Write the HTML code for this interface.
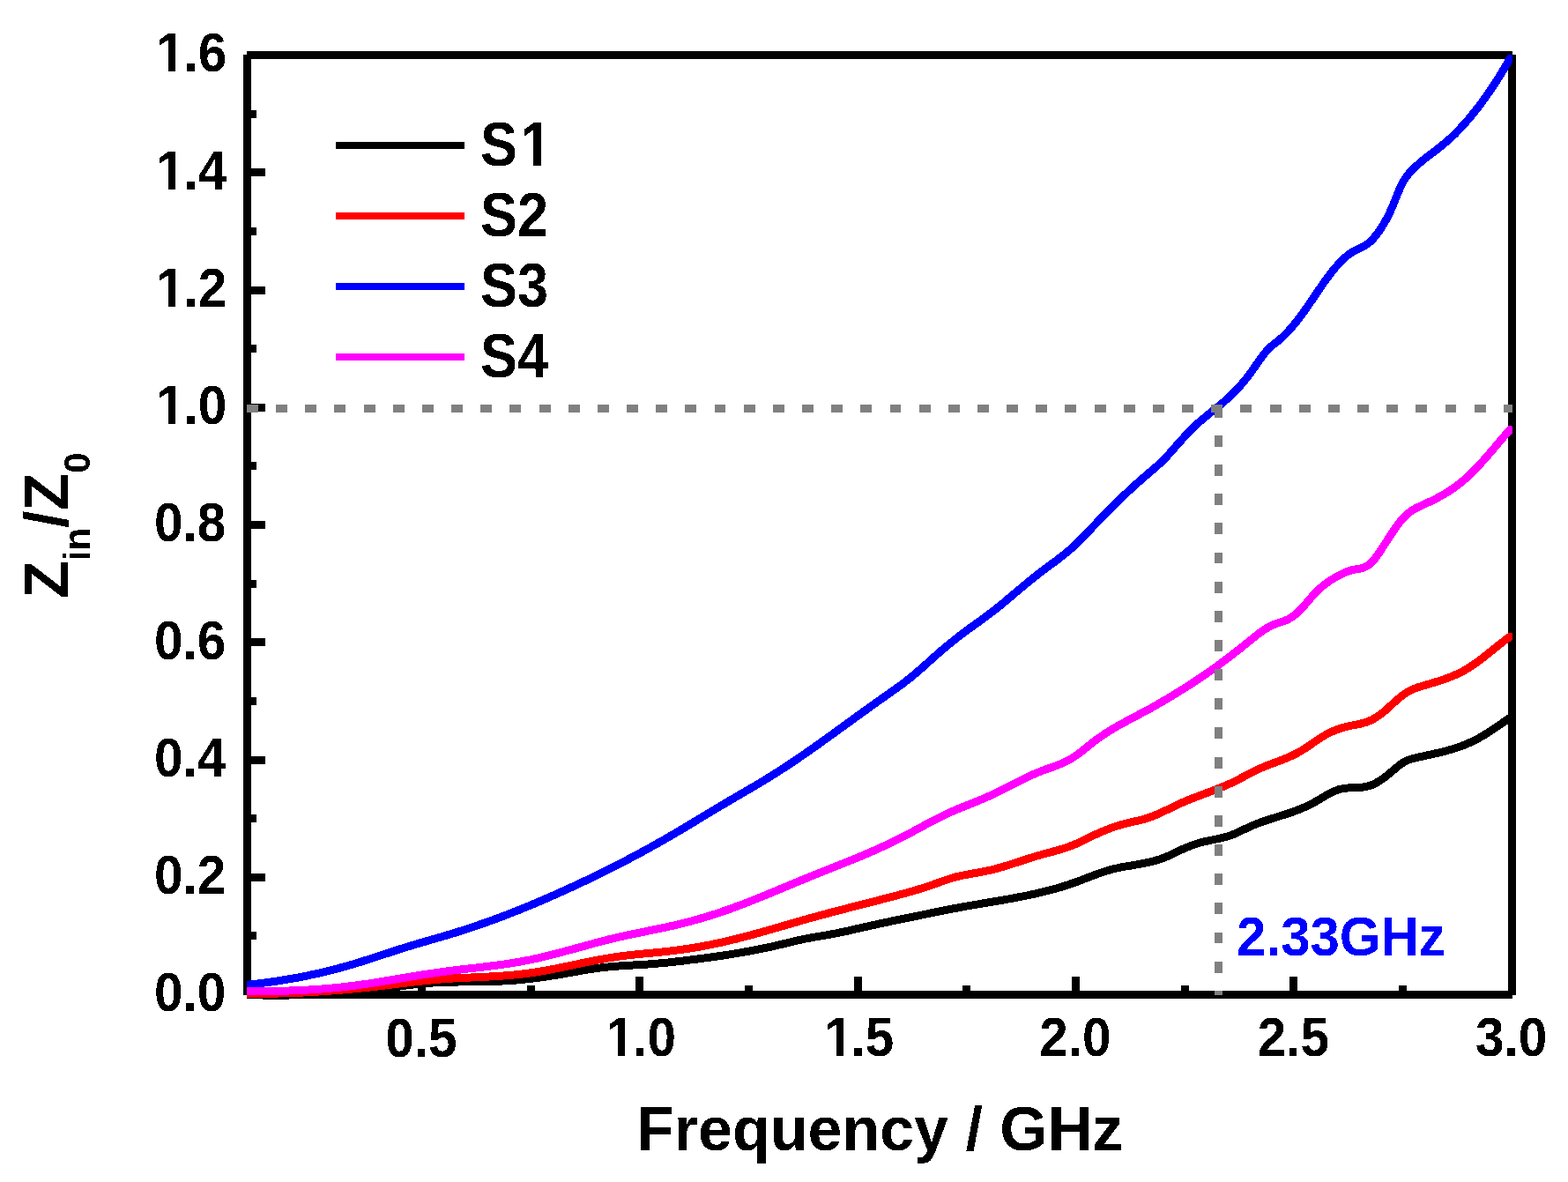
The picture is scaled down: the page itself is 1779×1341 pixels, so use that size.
<!DOCTYPE html>
<html><head><meta charset="utf-8"><title>Zin/Z0 vs Frequency</title>
<style>
html,body{margin:0;padding:0;background:#fff;}
body{width:1779px;height:1341px;overflow:hidden;}
svg{display:block;}
text{font-family:'Liberation Sans', Arial, Helvetica, sans-serif;font-weight:bold;}
</style></head><body>
<svg width="1779" height="1341" viewBox="0 0 1779 1341" shape-rendering="crispEdges">
<rect x="0" y="0" width="1779" height="1341" fill="#fff"/>
<defs><filter id="crisp" x="-10%" y="-10%" width="120%" height="120%" color-interpolation-filters="sRGB"><feComponentTransfer><feFuncA type="discrete" tableValues="0 1"/></feComponentTransfer></filter><clipPath id="plot"><rect x="280" y="40" width="1436" height="1100"/></clipPath></defs>

<g fill="#000">
<rect x="276" y="62" width="9" height="1067"/>
<rect x="1711" y="62" width="9" height="1067"/>
<rect x="280" y="58" width="1436" height="9"/>
<rect x="280" y="1124" width="1436" height="9"/>
<rect x="285" y="1057.3" width="6" height="9"/>
<rect x="285" y="990.7" width="16" height="9"/>
<rect x="285" y="924.1" width="6" height="9"/>
<rect x="285" y="857.5" width="16" height="9"/>
<rect x="285" y="790.8" width="6" height="9"/>
<rect x="285" y="724.2" width="16" height="9"/>
<rect x="285" y="657.6" width="6" height="9"/>
<rect x="285" y="591.0" width="16" height="9"/>
<rect x="285" y="524.4" width="6" height="9"/>
<rect x="285" y="457.7" width="16" height="9"/>
<rect x="285" y="391.1" width="6" height="9"/>
<rect x="285" y="324.5" width="16" height="9"/>
<rect x="285" y="257.9" width="6" height="9"/>
<rect x="285" y="191.2" width="16" height="9"/>
<rect x="285" y="124.6" width="6" height="9"/>
<rect x="350.2" y="1117.6" width="9" height="6.5"/>
<rect x="473.9" y="1108.1" width="9" height="16"/>
<rect x="597.6" y="1117.6" width="9" height="6.5"/>
<rect x="721.2" y="1108.1" width="9" height="16"/>
<rect x="844.9" y="1117.6" width="9" height="6.5"/>
<rect x="968.6" y="1108.1" width="9" height="16"/>
<rect x="1092.3" y="1117.6" width="9" height="6.5"/>
<rect x="1215.9" y="1108.1" width="9" height="16"/>
<rect x="1339.6" y="1117.6" width="9" height="6.5"/>
<rect x="1463.3" y="1108.1" width="9" height="16"/>
<rect x="1587.0" y="1117.6" width="9" height="6.5"/>
</g>
<g font-size="60" text-anchor="end" fill="#000" filter="url(#crisp)">
<text transform="translate(256.3,1147.4) scale(0.975,1.05)">0.0</text>
<text transform="translate(256.3,1014.1) scale(0.975,1.05)">0.2</text>
<text transform="translate(256.3,880.9) scale(0.975,1.05)">0.4</text>
<text transform="translate(256.3,747.6) scale(0.975,1.05)">0.6</text>
<text transform="translate(256.3,614.4) scale(0.975,1.05)">0.8</text>
<text transform="translate(256.3,481.1) scale(0.975,1.05)"><tspan dx="1">1</tspan><tspan dx="-1">.0</tspan></text>
<text transform="translate(256.3,347.9) scale(0.975,1.05)"><tspan dx="1">1</tspan><tspan dx="-1">.2</tspan></text>
<text transform="translate(256.3,214.6) scale(0.975,1.05)"><tspan dx="1">1</tspan><tspan dx="-1">.4</tspan></text>
<text transform="translate(256.3,81.4) scale(0.975,1.05)"><tspan dx="1">1</tspan><tspan dx="-1">.6</tspan></text>
</g>
<g font-size="60" text-anchor="middle" fill="#000" filter="url(#crisp)">
<text transform="translate(478.0,1198.5) scale(0.975,1.05)">0.5</text>
<text transform="translate(725.3,1198.5) scale(0.975,1.05)"><tspan dx="2">1</tspan><tspan dx="-2">.0</tspan></text>
<text transform="translate(972.7,1198.5) scale(0.975,1.05)"><tspan dx="2">1</tspan><tspan dx="-2">.5</tspan></text>
<text transform="translate(1220.0,1198.5) scale(0.975,1.05)">2.0</text>
<text transform="translate(1467.4,1198.5) scale(0.975,1.05)">2.5</text>
<text transform="translate(1714.7,1198.5) scale(0.975,1.05)">3.0</text>
</g>
<text x="722" y="1305" font-size="70" fill="#000" filter="url(#crisp)">Frequency / GHz</text>
<text transform="translate(77,679) rotate(-90)" font-size="70" fill="#000" filter="url(#crisp)">Z<tspan font-size="42" dy="24.8">in</tspan><tspan dy="-24.8">/Z</tspan><tspan font-size="42" dy="24.8">0</tspan></text>
<g clip-path="url(#plot)" shape-rendering="crispEdges" fill="none" stroke-width="9" stroke-linejoin="round" stroke-linecap="round">
<path d="M280.0,1128.5 C281.0,1128.6 284.0,1128.7 286.0,1128.7 C288.0,1128.8 290.0,1128.8 292.0,1128.9 C294.0,1128.9 296.0,1129.0 298.0,1129.0 C300.0,1129.0 302.0,1129.1 304.0,1129.1 C306.0,1129.1 308.0,1129.1 310.0,1129.1 C312.0,1129.1 314.0,1129.1 316.0,1129.1 C318.0,1129.1 320.0,1129.1 322.0,1129.1 C324.0,1129.1 326.0,1129.1 328.0,1129.0 C330.0,1129.0 332.0,1129.0 334.0,1128.9 C336.0,1128.9 338.0,1128.8 340.0,1128.8 C342.0,1128.7 344.0,1128.7 346.0,1128.6 C348.0,1128.5 350.0,1128.5 352.0,1128.4 C354.0,1128.3 356.0,1128.2 358.0,1128.1 C360.0,1128.0 362.0,1127.9 364.0,1127.8 C366.0,1127.7 368.0,1127.6 370.0,1127.5 C372.0,1127.4 374.0,1127.2 376.0,1127.1 C378.0,1127.0 380.0,1126.8 382.0,1126.7 C384.0,1126.5 386.0,1126.4 388.0,1126.2 C390.0,1126.1 392.0,1125.9 394.0,1125.8 C396.0,1125.6 398.0,1125.4 400.0,1125.2 C402.0,1125.1 404.0,1124.9 406.0,1124.7 C408.0,1124.5 410.0,1124.3 412.0,1124.1 C414.0,1123.9 416.0,1123.7 418.0,1123.4 C420.0,1123.2 422.0,1123.0 424.0,1122.8 C426.0,1122.5 428.0,1122.3 430.0,1122.1 C432.0,1121.8 434.0,1121.6 436.0,1121.3 C438.0,1121.1 440.0,1120.8 442.0,1120.5 C444.0,1120.3 446.0,1120.0 448.0,1119.7 C450.0,1119.5 452.0,1119.2 454.0,1118.9 C456.0,1118.7 458.0,1118.4 460.0,1118.1 C462.0,1117.9 464.0,1117.6 466.0,1117.4 C468.0,1117.1 470.0,1116.9 472.0,1116.7 C474.0,1116.4 476.0,1116.2 478.0,1116.0 C480.0,1115.8 482.0,1115.7 484.0,1115.5 C486.0,1115.3 488.0,1115.2 490.0,1115.1 C492.0,1114.9 494.0,1114.8 496.0,1114.7 C498.0,1114.6 500.0,1114.5 502.0,1114.4 C504.0,1114.4 506.0,1114.3 508.0,1114.2 C510.0,1114.2 512.0,1114.1 514.0,1114.1 C516.0,1114.0 518.0,1114.0 520.0,1114.0 C522.0,1113.9 524.0,1113.9 526.0,1113.9 C528.0,1113.9 530.0,1113.8 532.0,1113.8 C534.0,1113.8 536.0,1113.8 538.0,1113.8 C540.0,1113.7 542.0,1113.7 544.0,1113.7 C546.0,1113.7 548.0,1113.6 550.0,1113.6 C552.0,1113.6 554.0,1113.5 556.0,1113.5 C558.0,1113.4 560.0,1113.4 562.0,1113.3 C564.0,1113.2 566.0,1113.2 568.0,1113.1 C570.0,1113.0 572.0,1112.9 574.0,1112.8 C576.0,1112.7 578.0,1112.6 580.0,1112.4 C582.0,1112.3 584.0,1112.1 586.0,1112.0 C588.0,1111.8 590.0,1111.6 592.0,1111.4 C594.0,1111.2 596.0,1111.0 598.0,1110.8 C600.0,1110.6 602.0,1110.4 604.0,1110.1 C606.0,1109.9 608.0,1109.6 610.0,1109.4 C612.0,1109.1 614.0,1108.8 616.0,1108.5 C618.0,1108.3 620.0,1108.0 622.0,1107.7 C624.0,1107.4 626.0,1107.0 628.0,1106.7 C630.0,1106.4 632.0,1106.1 634.0,1105.7 C636.0,1105.4 638.0,1105.1 640.0,1104.7 C642.0,1104.4 644.0,1104.0 646.0,1103.7 C648.0,1103.3 650.0,1102.9 652.0,1102.6 C654.0,1102.2 656.0,1101.9 658.0,1101.5 C660.0,1101.2 662.0,1100.8 664.0,1100.5 C666.0,1100.2 668.0,1099.9 670.0,1099.5 C672.0,1099.2 674.0,1098.9 676.0,1098.7 C678.0,1098.4 680.0,1098.1 682.0,1097.9 C684.0,1097.7 686.0,1097.4 688.0,1097.2 C690.0,1097.0 692.0,1096.9 694.0,1096.7 C696.0,1096.5 698.0,1096.3 700.0,1096.2 C702.0,1096.0 704.0,1095.9 706.0,1095.8 C708.0,1095.6 710.0,1095.5 712.0,1095.4 C714.0,1095.3 716.0,1095.2 718.0,1095.0 C720.0,1094.9 722.0,1094.8 724.0,1094.7 C726.0,1094.6 728.0,1094.5 730.0,1094.3 C732.0,1094.2 734.0,1094.1 736.0,1093.9 C738.0,1093.8 740.0,1093.6 742.0,1093.5 C744.0,1093.3 746.0,1093.1 748.0,1092.9 C750.0,1092.8 752.0,1092.6 754.0,1092.4 C756.0,1092.2 758.0,1092.0 760.0,1091.8 C762.0,1091.5 764.0,1091.3 766.0,1091.1 C768.0,1090.9 770.0,1090.6 772.0,1090.4 C774.0,1090.2 776.0,1089.9 778.0,1089.7 C780.0,1089.4 782.0,1089.2 784.0,1088.9 C786.0,1088.7 788.0,1088.4 790.0,1088.2 C792.0,1087.9 794.0,1087.7 796.0,1087.4 C798.0,1087.2 800.0,1086.9 802.0,1086.6 C804.0,1086.4 806.0,1086.1 808.0,1085.8 C810.0,1085.5 812.0,1085.2 814.0,1084.9 C816.0,1084.7 818.0,1084.4 820.0,1084.1 C822.0,1083.8 824.0,1083.5 826.0,1083.2 C828.0,1082.8 830.0,1082.5 832.0,1082.2 C834.0,1081.9 836.0,1081.5 838.0,1081.2 C840.0,1080.9 842.0,1080.5 844.0,1080.2 C846.0,1079.8 848.0,1079.5 850.0,1079.1 C852.0,1078.7 854.0,1078.3 856.0,1078.0 C858.0,1077.6 860.0,1077.2 862.0,1076.8 C864.0,1076.4 866.0,1076.0 868.0,1075.5 C870.0,1075.1 872.0,1074.7 874.0,1074.3 C876.0,1073.8 878.0,1073.4 880.0,1072.9 C882.0,1072.4 884.0,1072.0 886.0,1071.5 C888.0,1071.0 890.0,1070.5 892.0,1070.1 C894.0,1069.6 896.0,1069.1 898.0,1068.6 C900.0,1068.1 902.0,1067.7 904.0,1067.2 C906.0,1066.8 908.0,1066.3 910.0,1065.9 C912.0,1065.4 914.0,1065.0 916.0,1064.6 C918.0,1064.2 920.0,1063.9 922.0,1063.5 C924.0,1063.2 926.0,1062.8 928.0,1062.5 C930.0,1062.2 932.0,1061.9 934.0,1061.5 C936.0,1061.2 938.0,1060.9 940.0,1060.5 C942.0,1060.2 944.0,1059.8 946.0,1059.4 C948.0,1059.0 950.0,1058.6 952.0,1058.2 C954.0,1057.8 956.0,1057.4 958.0,1056.9 C960.0,1056.5 962.0,1056.0 964.0,1055.6 C966.0,1055.1 968.0,1054.7 970.0,1054.2 C972.0,1053.8 974.0,1053.3 976.0,1052.8 C978.0,1052.4 980.0,1051.9 982.0,1051.5 C984.0,1051.0 986.0,1050.6 988.0,1050.2 C990.0,1049.7 992.0,1049.3 994.0,1048.8 C996.0,1048.4 998.0,1048.0 1000.0,1047.6 C1002.0,1047.1 1004.0,1046.7 1006.0,1046.3 C1008.0,1045.9 1010.0,1045.5 1012.0,1045.0 C1014.0,1044.6 1016.0,1044.2 1018.0,1043.8 C1020.0,1043.4 1022.0,1043.0 1024.0,1042.6 C1026.0,1042.2 1028.0,1041.8 1030.0,1041.3 C1032.0,1040.9 1034.0,1040.5 1036.0,1040.1 C1038.0,1039.7 1040.0,1039.3 1042.0,1038.9 C1044.0,1038.4 1046.0,1038.0 1048.0,1037.6 C1050.0,1037.2 1052.0,1036.8 1054.0,1036.4 C1056.0,1035.9 1058.0,1035.5 1060.0,1035.1 C1062.0,1034.7 1064.0,1034.3 1066.0,1033.9 C1068.0,1033.5 1070.0,1033.1 1072.0,1032.7 C1074.0,1032.3 1076.0,1031.9 1078.0,1031.5 C1080.0,1031.1 1082.0,1030.8 1084.0,1030.4 C1086.0,1030.0 1088.0,1029.7 1090.0,1029.3 C1092.0,1028.9 1094.0,1028.6 1096.0,1028.2 C1098.0,1027.9 1100.0,1027.5 1102.0,1027.2 C1104.0,1026.9 1106.0,1026.5 1108.0,1026.2 C1110.0,1025.8 1112.0,1025.5 1114.0,1025.2 C1116.0,1024.8 1118.0,1024.5 1120.0,1024.1 C1122.0,1023.8 1124.0,1023.5 1126.0,1023.1 C1128.0,1022.8 1130.0,1022.5 1132.0,1022.1 C1134.0,1021.8 1136.0,1021.4 1138.0,1021.1 C1140.0,1020.7 1142.0,1020.4 1144.0,1020.0 C1146.0,1019.6 1148.0,1019.3 1150.0,1018.9 C1152.0,1018.5 1154.0,1018.1 1156.0,1017.8 C1158.0,1017.4 1160.0,1017.0 1162.0,1016.6 C1164.0,1016.2 1166.0,1015.8 1168.0,1015.4 C1170.0,1014.9 1172.0,1014.5 1174.0,1014.1 C1176.0,1013.6 1178.0,1013.2 1180.0,1012.7 C1182.0,1012.2 1184.0,1011.7 1186.0,1011.2 C1188.0,1010.7 1190.0,1010.2 1192.0,1009.7 C1194.0,1009.2 1196.0,1008.6 1198.0,1008.1 C1200.0,1007.5 1202.0,1006.9 1204.0,1006.3 C1206.0,1005.7 1208.0,1005.1 1210.0,1004.4 C1212.0,1003.8 1214.0,1003.1 1216.0,1002.4 C1218.0,1001.8 1220.0,1001.0 1222.0,1000.3 C1224.0,999.6 1226.0,998.8 1228.0,998.0 C1230.0,997.3 1232.0,996.5 1234.0,995.7 C1236.0,994.9 1238.0,994.2 1240.0,993.4 C1242.0,992.7 1244.0,991.9 1246.0,991.2 C1248.0,990.5 1250.0,989.8 1252.0,989.1 C1254.0,988.5 1256.0,987.8 1258.0,987.3 C1260.0,986.7 1262.0,986.2 1264.0,985.7 C1266.0,985.2 1268.0,984.8 1270.0,984.4 C1272.0,984.0 1274.0,983.6 1276.0,983.2 C1278.0,982.9 1280.0,982.5 1282.0,982.2 C1284.0,981.9 1286.0,981.6 1288.0,981.2 C1290.0,980.9 1292.0,980.5 1294.0,980.2 C1296.0,979.8 1298.0,979.4 1300.0,979.0 C1302.0,978.6 1304.0,978.2 1306.0,977.7 C1308.0,977.2 1310.0,976.6 1312.0,976.0 C1314.0,975.4 1316.0,974.8 1318.0,974.1 C1320.0,973.3 1322.0,972.5 1324.0,971.7 C1326.0,970.8 1328.0,969.9 1330.0,969.0 C1332.0,968.0 1334.0,967.1 1336.0,966.1 C1338.0,965.2 1340.0,964.2 1342.0,963.3 C1344.0,962.5 1346.0,961.6 1348.0,960.8 C1350.0,960.0 1352.0,959.2 1354.0,958.5 C1356.0,957.8 1358.0,957.1 1360.0,956.5 C1362.0,955.9 1364.0,955.4 1366.0,955.0 C1368.0,954.5 1370.0,954.1 1372.0,953.6 C1374.0,953.2 1376.0,952.8 1378.0,952.4 C1380.0,952.0 1382.0,951.6 1384.0,951.2 C1386.0,950.7 1388.0,950.3 1390.0,949.7 C1392.0,949.2 1394.0,948.6 1396.0,947.9 C1398.0,947.2 1400.0,946.4 1402.0,945.5 C1404.0,944.7 1406.0,943.7 1408.0,942.7 C1410.0,941.7 1412.0,940.7 1414.0,939.8 C1416.0,938.8 1418.0,937.9 1420.0,937.1 C1422.0,936.2 1424.0,935.4 1426.0,934.6 C1428.0,933.8 1430.0,933.1 1432.0,932.4 C1434.0,931.7 1436.0,931.0 1438.0,930.3 C1440.0,929.7 1442.0,929.0 1444.0,928.4 C1446.0,927.8 1448.0,927.2 1450.0,926.5 C1452.0,925.9 1454.0,925.3 1456.0,924.6 C1458.0,924.0 1460.0,923.4 1462.0,922.7 C1464.0,922.0 1466.0,921.3 1468.0,920.6 C1470.0,919.9 1472.0,919.1 1474.0,918.3 C1476.0,917.5 1478.0,916.7 1480.0,915.8 C1482.0,914.9 1484.0,914.0 1486.0,913.0 C1488.0,912.0 1490.0,910.9 1492.0,909.8 C1494.0,908.6 1496.0,907.4 1498.0,906.3 C1500.0,905.1 1502.0,903.9 1504.0,902.7 C1506.0,901.6 1508.0,900.5 1510.0,899.5 C1512.0,898.5 1514.0,897.5 1516.0,896.8 C1518.0,896.0 1520.0,895.4 1522.0,895.0 C1524.0,894.5 1526.0,894.3 1528.0,894.1 C1530.0,893.9 1532.0,893.8 1534.0,893.7 C1536.0,893.6 1538.0,893.6 1540.0,893.5 C1542.0,893.4 1544.0,893.3 1546.0,893.1 C1548.0,892.8 1550.0,892.5 1552.0,892.0 C1554.0,891.5 1556.0,890.8 1558.0,889.9 C1560.0,889.0 1562.0,887.9 1564.0,886.7 C1566.0,885.5 1568.0,884.1 1570.0,882.7 C1572.0,881.2 1574.0,879.5 1576.0,877.9 C1578.0,876.3 1580.0,874.5 1582.0,872.8 C1584.0,871.1 1586.0,869.4 1588.0,867.9 C1590.0,866.5 1592.0,865.1 1594.0,864.0 C1596.0,862.9 1598.0,862.2 1600.0,861.5 C1602.0,860.8 1604.0,860.4 1606.0,859.9 C1608.0,859.4 1610.0,858.9 1612.0,858.5 C1614.0,858.0 1616.0,857.6 1618.0,857.2 C1620.0,856.7 1622.0,856.3 1624.0,855.9 C1626.0,855.4 1628.0,855.0 1630.0,854.5 C1632.0,854.1 1634.0,853.6 1636.0,853.1 C1638.0,852.6 1640.0,852.1 1642.0,851.5 C1644.0,851.0 1646.0,850.4 1648.0,849.8 C1650.0,849.2 1652.0,848.6 1654.0,847.9 C1656.0,847.2 1658.0,846.5 1660.0,845.7 C1662.0,844.9 1664.0,844.1 1666.0,843.2 C1668.0,842.3 1670.0,841.4 1672.0,840.4 C1674.0,839.4 1676.0,838.4 1678.0,837.3 C1680.0,836.2 1682.0,835.0 1684.0,833.8 C1686.0,832.6 1688.0,831.3 1690.0,830.0 C1692.0,828.7 1694.0,827.4 1696.0,826.1 C1698.0,824.7 1700.0,823.4 1702.0,822.0 C1704.0,820.6 1706.2,819.1 1708.0,817.9 C1709.8,816.6 1712.2,815.1 1713.0,814.5" stroke="#000"/>
<path d="M280.0,1127.3 C281.0,1127.3 284.0,1127.3 286.0,1127.3 C288.0,1127.4 290.0,1127.4 292.0,1127.4 C294.0,1127.3 296.0,1127.3 298.0,1127.3 C300.0,1127.3 302.0,1127.3 304.0,1127.3 C306.0,1127.2 308.0,1127.2 310.0,1127.2 C312.0,1127.1 314.0,1127.1 316.0,1127.0 C318.0,1127.0 320.0,1126.9 322.0,1126.9 C324.0,1126.8 326.0,1126.7 328.0,1126.7 C330.0,1126.6 332.0,1126.5 334.0,1126.5 C336.0,1126.4 338.0,1126.3 340.0,1126.2 C342.0,1126.1 344.0,1126.0 346.0,1125.9 C348.0,1125.8 350.0,1125.7 352.0,1125.6 C354.0,1125.5 356.0,1125.4 358.0,1125.3 C360.0,1125.1 362.0,1125.0 364.0,1124.9 C366.0,1124.7 368.0,1124.6 370.0,1124.5 C372.0,1124.3 374.0,1124.2 376.0,1124.0 C378.0,1123.9 380.0,1123.7 382.0,1123.6 C384.0,1123.4 386.0,1123.2 388.0,1123.1 C390.0,1122.9 392.0,1122.7 394.0,1122.6 C396.0,1122.4 398.0,1122.2 400.0,1122.0 C402.0,1121.8 404.0,1121.6 406.0,1121.4 C408.0,1121.2 410.0,1121.0 412.0,1120.8 C414.0,1120.6 416.0,1120.4 418.0,1120.2 C420.0,1120.0 422.0,1119.7 424.0,1119.5 C426.0,1119.3 428.0,1119.1 430.0,1118.8 C432.0,1118.6 434.0,1118.4 436.0,1118.1 C438.0,1117.9 440.0,1117.6 442.0,1117.4 C444.0,1117.1 446.0,1116.9 448.0,1116.7 C450.0,1116.4 452.0,1116.2 454.0,1115.9 C456.0,1115.7 458.0,1115.4 460.0,1115.2 C462.0,1114.9 464.0,1114.7 466.0,1114.5 C468.0,1114.2 470.0,1114.0 472.0,1113.8 C474.0,1113.5 476.0,1113.3 478.0,1113.1 C480.0,1112.9 482.0,1112.7 484.0,1112.5 C486.0,1112.3 488.0,1112.1 490.0,1111.9 C492.0,1111.7 494.0,1111.5 496.0,1111.3 C498.0,1111.2 500.0,1111.0 502.0,1110.9 C504.0,1110.7 506.0,1110.6 508.0,1110.4 C510.0,1110.3 512.0,1110.2 514.0,1110.0 C516.0,1109.9 518.0,1109.8 520.0,1109.7 C522.0,1109.6 524.0,1109.5 526.0,1109.4 C528.0,1109.3 530.0,1109.2 532.0,1109.1 C534.0,1109.0 536.0,1108.9 538.0,1108.8 C540.0,1108.7 542.0,1108.6 544.0,1108.6 C546.0,1108.5 548.0,1108.4 550.0,1108.3 C552.0,1108.2 554.0,1108.1 556.0,1107.9 C558.0,1107.8 560.0,1107.7 562.0,1107.6 C564.0,1107.5 566.0,1107.4 568.0,1107.2 C570.0,1107.1 572.0,1106.9 574.0,1106.8 C576.0,1106.6 578.0,1106.5 580.0,1106.3 C582.0,1106.1 584.0,1105.9 586.0,1105.7 C588.0,1105.5 590.0,1105.3 592.0,1105.1 C594.0,1104.9 596.0,1104.6 598.0,1104.4 C600.0,1104.1 602.0,1103.8 604.0,1103.5 C606.0,1103.2 608.0,1102.9 610.0,1102.6 C612.0,1102.3 614.0,1101.9 616.0,1101.6 C618.0,1101.2 620.0,1100.9 622.0,1100.5 C624.0,1100.1 626.0,1099.7 628.0,1099.4 C630.0,1099.0 632.0,1098.6 634.0,1098.2 C636.0,1097.8 638.0,1097.4 640.0,1096.9 C642.0,1096.5 644.0,1096.1 646.0,1095.7 C648.0,1095.3 650.0,1094.9 652.0,1094.4 C654.0,1094.0 656.0,1093.6 658.0,1093.2 C660.0,1092.8 662.0,1092.4 664.0,1091.9 C666.0,1091.5 668.0,1091.1 670.0,1090.7 C672.0,1090.3 674.0,1089.9 676.0,1089.5 C678.0,1089.2 680.0,1088.8 682.0,1088.4 C684.0,1088.0 686.0,1087.7 688.0,1087.3 C690.0,1087.0 692.0,1086.7 694.0,1086.4 C696.0,1086.0 698.0,1085.7 700.0,1085.4 C702.0,1085.2 704.0,1084.9 706.0,1084.6 C708.0,1084.4 710.0,1084.1 712.0,1083.9 C714.0,1083.7 716.0,1083.4 718.0,1083.2 C720.0,1083.0 722.0,1082.8 724.0,1082.6 C726.0,1082.4 728.0,1082.2 730.0,1082.0 C732.0,1081.8 734.0,1081.6 736.0,1081.5 C738.0,1081.3 740.0,1081.1 742.0,1080.9 C744.0,1080.7 746.0,1080.5 748.0,1080.3 C750.0,1080.1 752.0,1079.9 754.0,1079.7 C756.0,1079.5 758.0,1079.3 760.0,1079.0 C762.0,1078.8 764.0,1078.6 766.0,1078.3 C768.0,1078.0 770.0,1077.8 772.0,1077.5 C774.0,1077.2 776.0,1077.0 778.0,1076.7 C780.0,1076.4 782.0,1076.1 784.0,1075.7 C786.0,1075.4 788.0,1075.1 790.0,1074.7 C792.0,1074.4 794.0,1074.1 796.0,1073.7 C798.0,1073.3 800.0,1073.0 802.0,1072.6 C804.0,1072.2 806.0,1071.8 808.0,1071.4 C810.0,1071.0 812.0,1070.6 814.0,1070.1 C816.0,1069.7 818.0,1069.3 820.0,1068.8 C822.0,1068.4 824.0,1067.9 826.0,1067.4 C828.0,1067.0 830.0,1066.5 832.0,1066.0 C834.0,1065.5 836.0,1065.0 838.0,1064.5 C840.0,1064.0 842.0,1063.5 844.0,1062.9 C846.0,1062.4 848.0,1061.9 850.0,1061.4 C852.0,1060.8 854.0,1060.3 856.0,1059.7 C858.0,1059.2 860.0,1058.6 862.0,1058.1 C864.0,1057.5 866.0,1056.9 868.0,1056.4 C870.0,1055.8 872.0,1055.2 874.0,1054.6 C876.0,1054.1 878.0,1053.5 880.0,1052.9 C882.0,1052.3 884.0,1051.8 886.0,1051.2 C888.0,1050.6 890.0,1050.0 892.0,1049.4 C894.0,1048.9 896.0,1048.3 898.0,1047.7 C900.0,1047.1 902.0,1046.5 904.0,1046.0 C906.0,1045.4 908.0,1044.8 910.0,1044.2 C912.0,1043.7 914.0,1043.1 916.0,1042.5 C918.0,1042.0 920.0,1041.4 922.0,1040.9 C924.0,1040.3 926.0,1039.8 928.0,1039.2 C930.0,1038.7 932.0,1038.1 934.0,1037.6 C936.0,1037.1 938.0,1036.5 940.0,1036.0 C942.0,1035.5 944.0,1034.9 946.0,1034.4 C948.0,1033.9 950.0,1033.4 952.0,1032.8 C954.0,1032.3 956.0,1031.8 958.0,1031.3 C960.0,1030.8 962.0,1030.3 964.0,1029.7 C966.0,1029.2 968.0,1028.7 970.0,1028.2 C972.0,1027.7 974.0,1027.2 976.0,1026.7 C978.0,1026.2 980.0,1025.6 982.0,1025.1 C984.0,1024.6 986.0,1024.1 988.0,1023.6 C990.0,1023.1 992.0,1022.6 994.0,1022.1 C996.0,1021.5 998.0,1021.0 1000.0,1020.5 C1002.0,1020.0 1004.0,1019.5 1006.0,1018.9 C1008.0,1018.4 1010.0,1017.9 1012.0,1017.4 C1014.0,1016.8 1016.0,1016.3 1018.0,1015.8 C1020.0,1015.2 1022.0,1014.7 1024.0,1014.1 C1026.0,1013.6 1028.0,1013.1 1030.0,1012.5 C1032.0,1011.9 1034.0,1011.4 1036.0,1010.8 C1038.0,1010.2 1040.0,1009.6 1042.0,1009.0 C1044.0,1008.4 1046.0,1007.8 1048.0,1007.2 C1050.0,1006.5 1052.0,1005.9 1054.0,1005.2 C1056.0,1004.5 1058.0,1003.8 1060.0,1003.1 C1062.0,1002.4 1064.0,1001.7 1066.0,1000.9 C1068.0,1000.2 1070.0,999.5 1072.0,998.8 C1074.0,998.1 1076.0,997.4 1078.0,996.8 C1080.0,996.1 1082.0,995.6 1084.0,995.0 C1086.0,994.5 1088.0,994.0 1090.0,993.6 C1092.0,993.2 1094.0,992.8 1096.0,992.4 C1098.0,992.0 1100.0,991.7 1102.0,991.3 C1104.0,991.0 1106.0,990.6 1108.0,990.3 C1110.0,989.9 1112.0,989.6 1114.0,989.2 C1116.0,988.8 1118.0,988.4 1120.0,988.0 C1122.0,987.6 1124.0,987.1 1126.0,986.6 C1128.0,986.1 1130.0,985.6 1132.0,985.0 C1134.0,984.5 1136.0,983.9 1138.0,983.3 C1140.0,982.7 1142.0,982.1 1144.0,981.5 C1146.0,980.8 1148.0,980.2 1150.0,979.6 C1152.0,978.9 1154.0,978.3 1156.0,977.6 C1158.0,977.0 1160.0,976.3 1162.0,975.6 C1164.0,975.0 1166.0,974.4 1168.0,973.7 C1170.0,973.1 1172.0,972.5 1174.0,971.9 C1176.0,971.2 1178.0,970.7 1180.0,970.1 C1182.0,969.5 1184.0,969.0 1186.0,968.4 C1188.0,967.9 1190.0,967.4 1192.0,966.8 C1194.0,966.3 1196.0,965.7 1198.0,965.2 C1200.0,964.6 1202.0,964.1 1204.0,963.4 C1206.0,962.8 1208.0,962.2 1210.0,961.5 C1212.0,960.9 1214.0,960.1 1216.0,959.4 C1218.0,958.6 1220.0,957.7 1222.0,956.9 C1224.0,956.0 1226.0,955.0 1228.0,954.0 C1230.0,953.1 1232.0,952.1 1234.0,951.1 C1236.0,950.1 1238.0,949.1 1240.0,948.1 C1242.0,947.2 1244.0,946.2 1246.0,945.4 C1248.0,944.5 1250.0,943.6 1252.0,942.8 C1254.0,941.9 1256.0,941.2 1258.0,940.4 C1260.0,939.6 1262.0,938.9 1264.0,938.2 C1266.0,937.5 1268.0,936.9 1270.0,936.3 C1272.0,935.7 1274.0,935.1 1276.0,934.6 C1278.0,934.0 1280.0,933.6 1282.0,933.1 C1284.0,932.6 1286.0,932.2 1288.0,931.7 C1290.0,931.3 1292.0,930.9 1294.0,930.4 C1296.0,929.9 1298.0,929.4 1300.0,928.7 C1302.0,928.1 1304.0,927.4 1306.0,926.7 C1308.0,926.0 1310.0,925.1 1312.0,924.3 C1314.0,923.4 1316.0,922.5 1318.0,921.6 C1320.0,920.7 1322.0,919.7 1324.0,918.8 C1326.0,917.8 1328.0,916.8 1330.0,915.9 C1332.0,914.9 1334.0,914.0 1336.0,913.0 C1338.0,912.1 1340.0,911.2 1342.0,910.3 C1344.0,909.4 1346.0,908.6 1348.0,907.7 C1350.0,906.9 1352.0,906.1 1354.0,905.3 C1356.0,904.6 1358.0,903.8 1360.0,903.0 C1362.0,902.3 1364.0,901.5 1366.0,900.8 C1368.0,900.0 1370.0,899.3 1372.0,898.6 C1374.0,897.8 1376.0,897.1 1378.0,896.3 C1380.0,895.5 1382.0,894.7 1384.0,893.9 C1386.0,893.1 1388.0,892.3 1390.0,891.4 C1392.0,890.6 1394.0,889.7 1396.0,888.8 C1398.0,887.9 1400.0,886.9 1402.0,885.9 C1404.0,884.9 1406.0,883.9 1408.0,882.8 C1410.0,881.8 1412.0,880.7 1414.0,879.7 C1416.0,878.6 1418.0,877.6 1420.0,876.5 C1422.0,875.5 1424.0,874.5 1426.0,873.5 C1428.0,872.6 1430.0,871.7 1432.0,870.8 C1434.0,869.9 1436.0,869.1 1438.0,868.3 C1440.0,867.5 1442.0,866.8 1444.0,866.0 C1446.0,865.3 1448.0,864.6 1450.0,863.8 C1452.0,863.1 1454.0,862.3 1456.0,861.5 C1458.0,860.7 1460.0,859.9 1462.0,859.1 C1464.0,858.2 1466.0,857.3 1468.0,856.3 C1470.0,855.3 1472.0,854.3 1474.0,853.1 C1476.0,852.0 1478.0,850.8 1480.0,849.5 C1482.0,848.2 1484.0,846.8 1486.0,845.5 C1488.0,844.1 1490.0,842.7 1492.0,841.4 C1494.0,840.0 1496.0,838.6 1498.0,837.4 C1500.0,836.1 1502.0,834.8 1504.0,833.7 C1506.0,832.6 1508.0,831.5 1510.0,830.6 C1512.0,829.7 1514.0,828.8 1516.0,828.0 C1518.0,827.3 1520.0,826.6 1522.0,826.0 C1524.0,825.4 1526.0,824.8 1528.0,824.3 C1530.0,823.8 1532.0,823.4 1534.0,823.0 C1536.0,822.6 1538.0,822.3 1540.0,821.9 C1542.0,821.5 1544.0,821.1 1546.0,820.5 C1548.0,820.0 1550.0,819.4 1552.0,818.6 C1554.0,817.8 1556.0,816.9 1558.0,815.8 C1560.0,814.7 1562.0,813.5 1564.0,812.1 C1566.0,810.7 1568.0,809.1 1570.0,807.5 C1572.0,805.8 1574.0,804.0 1576.0,802.2 C1578.0,800.4 1580.0,798.5 1582.0,796.7 C1584.0,794.9 1586.0,793.1 1588.0,791.5 C1590.0,789.9 1592.0,788.3 1594.0,786.9 C1596.0,785.6 1598.0,784.4 1600.0,783.4 C1602.0,782.4 1604.0,781.6 1606.0,780.8 C1608.0,780.0 1610.0,779.4 1612.0,778.8 C1614.0,778.1 1616.0,777.5 1618.0,777.0 C1620.0,776.4 1622.0,775.8 1624.0,775.2 C1626.0,774.6 1628.0,774.0 1630.0,773.4 C1632.0,772.8 1634.0,772.1 1636.0,771.5 C1638.0,770.8 1640.0,770.1 1642.0,769.4 C1644.0,768.6 1646.0,767.9 1648.0,767.0 C1650.0,766.2 1652.0,765.3 1654.0,764.4 C1656.0,763.4 1658.0,762.4 1660.0,761.4 C1662.0,760.3 1664.0,759.1 1666.0,757.9 C1668.0,756.6 1670.0,755.3 1672.0,753.9 C1674.0,752.6 1676.0,751.1 1678.0,749.6 C1680.0,748.1 1682.0,746.6 1684.0,745.0 C1686.0,743.4 1688.0,741.8 1690.0,740.2 C1692.0,738.6 1694.0,737.0 1696.0,735.4 C1698.0,733.8 1700.0,732.2 1702.0,730.6 C1704.0,729.1 1706.1,727.4 1708.0,726.0 C1709.9,724.6 1712.3,722.9 1713.2,722.2" stroke="#f00"/>
<path d="M280.0,1117.3 C281.0,1117.2 284.0,1116.9 286.0,1116.7 C288.0,1116.5 290.0,1116.2 292.0,1116.0 C294.0,1115.8 296.0,1115.5 298.0,1115.3 C300.0,1115.0 302.0,1114.8 304.0,1114.5 C306.0,1114.2 308.0,1114.0 310.0,1113.7 C312.0,1113.4 314.0,1113.1 316.0,1112.8 C318.0,1112.5 320.0,1112.2 322.0,1111.8 C324.0,1111.5 326.0,1111.2 328.0,1110.8 C330.0,1110.5 332.0,1110.1 334.0,1109.8 C336.0,1109.4 338.0,1109.0 340.0,1108.7 C342.0,1108.3 344.0,1107.9 346.0,1107.5 C348.0,1107.1 350.0,1106.7 352.0,1106.2 C354.0,1105.8 356.0,1105.4 358.0,1104.9 C360.0,1104.5 362.0,1104.0 364.0,1103.6 C366.0,1103.1 368.0,1102.6 370.0,1102.1 C372.0,1101.7 374.0,1101.2 376.0,1100.7 C378.0,1100.1 380.0,1099.6 382.0,1099.1 C384.0,1098.6 386.0,1098.0 388.0,1097.5 C390.0,1096.9 392.0,1096.4 394.0,1095.8 C396.0,1095.2 398.0,1094.6 400.0,1094.1 C402.0,1093.5 404.0,1092.9 406.0,1092.2 C408.0,1091.6 410.0,1091.0 412.0,1090.4 C414.0,1089.7 416.0,1089.1 418.0,1088.5 C420.0,1087.8 422.0,1087.2 424.0,1086.5 C426.0,1085.9 428.0,1085.2 430.0,1084.5 C432.0,1083.9 434.0,1083.2 436.0,1082.6 C438.0,1081.9 440.0,1081.3 442.0,1080.6 C444.0,1080.0 446.0,1079.3 448.0,1078.7 C450.0,1078.0 452.0,1077.4 454.0,1076.7 C456.0,1076.1 458.0,1075.5 460.0,1074.8 C462.0,1074.2 464.0,1073.6 466.0,1073.0 C468.0,1072.4 470.0,1071.8 472.0,1071.2 C474.0,1070.6 476.0,1070.0 478.0,1069.4 C480.0,1068.9 482.0,1068.3 484.0,1067.7 C486.0,1067.1 488.0,1066.5 490.0,1065.9 C492.0,1065.4 494.0,1064.8 496.0,1064.2 C498.0,1063.6 500.0,1063.0 502.0,1062.5 C504.0,1061.9 506.0,1061.3 508.0,1060.7 C510.0,1060.1 512.0,1059.5 514.0,1058.9 C516.0,1058.3 518.0,1057.6 520.0,1057.0 C522.0,1056.4 524.0,1055.8 526.0,1055.1 C528.0,1054.5 530.0,1053.8 532.0,1053.2 C534.0,1052.5 536.0,1051.8 538.0,1051.2 C540.0,1050.5 542.0,1049.8 544.0,1049.1 C546.0,1048.4 548.0,1047.7 550.0,1047.0 C552.0,1046.3 554.0,1045.6 556.0,1044.9 C558.0,1044.1 560.0,1043.4 562.0,1042.7 C564.0,1041.9 566.0,1041.2 568.0,1040.4 C570.0,1039.7 572.0,1038.9 574.0,1038.2 C576.0,1037.4 578.0,1036.6 580.0,1035.8 C582.0,1035.0 584.0,1034.2 586.0,1033.5 C588.0,1032.7 590.0,1031.9 592.0,1031.0 C594.0,1030.2 596.0,1029.4 598.0,1028.6 C600.0,1027.8 602.0,1026.9 604.0,1026.1 C606.0,1025.3 608.0,1024.4 610.0,1023.6 C612.0,1022.7 614.0,1021.9 616.0,1021.0 C618.0,1020.1 620.0,1019.3 622.0,1018.4 C624.0,1017.5 626.0,1016.7 628.0,1015.8 C630.0,1014.9 632.0,1014.0 634.0,1013.1 C636.0,1012.2 638.0,1011.3 640.0,1010.4 C642.0,1009.5 644.0,1008.6 646.0,1007.7 C648.0,1006.8 650.0,1005.8 652.0,1004.9 C654.0,1004.0 656.0,1003.0 658.0,1002.1 C660.0,1001.2 662.0,1000.2 664.0,999.3 C666.0,998.3 668.0,997.4 670.0,996.4 C672.0,995.5 674.0,994.5 676.0,993.5 C678.0,992.5 680.0,991.6 682.0,990.6 C684.0,989.6 686.0,988.6 688.0,987.6 C690.0,986.6 692.0,985.6 694.0,984.6 C696.0,983.6 698.0,982.6 700.0,981.5 C702.0,980.5 704.0,979.5 706.0,978.5 C708.0,977.4 710.0,976.4 712.0,975.3 C714.0,974.3 716.0,973.2 718.0,972.2 C720.0,971.1 722.0,970.0 724.0,969.0 C726.0,967.9 728.0,966.8 730.0,965.7 C732.0,964.6 734.0,963.5 736.0,962.4 C738.0,961.3 740.0,960.2 742.0,959.1 C744.0,958.0 746.0,956.8 748.0,955.7 C750.0,954.6 752.0,953.4 754.0,952.3 C756.0,951.1 758.0,950.0 760.0,948.8 C762.0,947.7 764.0,946.5 766.0,945.3 C768.0,944.1 770.0,942.9 772.0,941.8 C774.0,940.6 776.0,939.4 778.0,938.2 C780.0,937.0 782.0,935.8 784.0,934.6 C786.0,933.4 788.0,932.2 790.0,931.0 C792.0,929.8 794.0,928.5 796.0,927.3 C798.0,926.1 800.0,924.9 802.0,923.7 C804.0,922.5 806.0,921.3 808.0,920.1 C810.0,918.9 812.0,917.7 814.0,916.5 C816.0,915.3 818.0,914.1 820.0,913.0 C822.0,911.8 824.0,910.6 826.0,909.4 C828.0,908.3 830.0,907.1 832.0,905.9 C834.0,904.8 836.0,903.6 838.0,902.4 C840.0,901.3 842.0,900.1 844.0,898.9 C846.0,897.8 848.0,896.6 850.0,895.4 C852.0,894.2 854.0,893.1 856.0,891.9 C858.0,890.7 860.0,889.5 862.0,888.3 C864.0,887.1 866.0,885.9 868.0,884.7 C870.0,883.5 872.0,882.2 874.0,881.0 C876.0,879.8 878.0,878.5 880.0,877.2 C882.0,876.0 884.0,874.7 886.0,873.4 C888.0,872.1 890.0,870.8 892.0,869.5 C894.0,868.2 896.0,866.8 898.0,865.5 C900.0,864.2 902.0,862.8 904.0,861.5 C906.0,860.1 908.0,858.7 910.0,857.4 C912.0,856.0 914.0,854.6 916.0,853.2 C918.0,851.8 920.0,850.4 922.0,849.0 C924.0,847.6 926.0,846.2 928.0,844.8 C930.0,843.3 932.0,841.9 934.0,840.5 C936.0,839.0 938.0,837.6 940.0,836.2 C942.0,834.7 944.0,833.3 946.0,831.8 C948.0,830.4 950.0,829.0 952.0,827.5 C954.0,826.1 956.0,824.6 958.0,823.1 C960.0,821.7 962.0,820.2 964.0,818.8 C966.0,817.3 968.0,815.9 970.0,814.4 C972.0,813.0 974.0,811.5 976.0,810.1 C978.0,808.6 980.0,807.2 982.0,805.8 C984.0,804.3 986.0,802.9 988.0,801.5 C990.0,800.0 992.0,798.6 994.0,797.2 C996.0,795.7 998.0,794.3 1000.0,792.9 C1002.0,791.5 1004.0,790.1 1006.0,788.7 C1008.0,787.3 1010.0,785.9 1012.0,784.5 C1014.0,783.0 1016.0,781.6 1018.0,780.2 C1020.0,778.7 1022.0,777.3 1024.0,775.8 C1026.0,774.3 1028.0,772.7 1030.0,771.2 C1032.0,769.6 1034.0,768.0 1036.0,766.4 C1038.0,764.8 1040.0,763.1 1042.0,761.3 C1044.0,759.6 1046.0,757.8 1048.0,756.0 C1050.0,754.3 1052.0,752.4 1054.0,750.6 C1056.0,748.8 1058.0,747.0 1060.0,745.2 C1062.0,743.4 1064.0,741.7 1066.0,740.0 C1068.0,738.2 1070.0,736.5 1072.0,734.9 C1074.0,733.2 1076.0,731.5 1078.0,729.9 C1080.0,728.3 1082.0,726.7 1084.0,725.1 C1086.0,723.5 1088.0,722.0 1090.0,720.4 C1092.0,718.9 1094.0,717.4 1096.0,715.9 C1098.0,714.4 1100.0,713.0 1102.0,711.5 C1104.0,710.1 1106.0,708.7 1108.0,707.2 C1110.0,705.8 1112.0,704.4 1114.0,702.9 C1116.0,701.5 1118.0,700.0 1120.0,698.5 C1122.0,697.0 1124.0,695.5 1126.0,693.9 C1128.0,692.4 1130.0,690.8 1132.0,689.2 C1134.0,687.6 1136.0,685.9 1138.0,684.3 C1140.0,682.6 1142.0,681.0 1144.0,679.3 C1146.0,677.6 1148.0,675.9 1150.0,674.2 C1152.0,672.6 1154.0,670.9 1156.0,669.2 C1158.0,667.5 1160.0,665.8 1162.0,664.2 C1164.0,662.5 1166.0,660.9 1168.0,659.2 C1170.0,657.6 1172.0,656.0 1174.0,654.4 C1176.0,652.8 1178.0,651.2 1180.0,649.7 C1182.0,648.2 1184.0,646.7 1186.0,645.2 C1188.0,643.7 1190.0,642.2 1192.0,640.7 C1194.0,639.2 1196.0,637.8 1198.0,636.3 C1200.0,634.8 1202.0,633.3 1204.0,631.7 C1206.0,630.1 1208.0,628.6 1210.0,626.9 C1212.0,625.3 1214.0,623.6 1216.0,621.8 C1218.0,620.0 1220.0,618.1 1222.0,616.2 C1224.0,614.3 1226.0,612.3 1228.0,610.2 C1230.0,608.2 1232.0,606.1 1234.0,604.0 C1236.0,601.9 1238.0,599.7 1240.0,597.6 C1242.0,595.5 1244.0,593.4 1246.0,591.3 C1248.0,589.2 1250.0,587.2 1252.0,585.1 C1254.0,583.1 1256.0,581.0 1258.0,579.0 C1260.0,577.0 1262.0,575.0 1264.0,573.0 C1266.0,571.0 1268.0,569.1 1270.0,567.1 C1272.0,565.2 1274.0,563.2 1276.0,561.3 C1278.0,559.4 1280.0,557.6 1282.0,555.7 C1284.0,553.8 1286.0,552.0 1288.0,550.2 C1290.0,548.4 1292.0,546.6 1294.0,544.9 C1296.0,543.1 1298.0,541.4 1300.0,539.7 C1302.0,538.0 1304.0,536.3 1306.0,534.6 C1308.0,532.9 1310.0,531.2 1312.0,529.4 C1314.0,527.6 1316.0,525.8 1318.0,523.9 C1320.0,521.9 1322.0,519.9 1324.0,517.7 C1326.0,515.6 1328.0,513.3 1330.0,511.1 C1332.0,508.8 1334.0,506.5 1336.0,504.2 C1338.0,501.9 1340.0,499.7 1342.0,497.5 C1344.0,495.3 1346.0,493.1 1348.0,491.1 C1350.0,489.0 1352.0,487.0 1354.0,485.0 C1356.0,483.1 1358.0,481.2 1360.0,479.4 C1362.0,477.6 1364.0,475.9 1366.0,474.3 C1368.0,472.6 1370.0,471.0 1372.0,469.4 C1374.0,467.7 1376.0,466.2 1378.0,464.6 C1380.0,463.0 1382.0,461.4 1384.0,459.7 C1386.0,458.0 1388.0,456.4 1390.0,454.6 C1392.0,452.8 1394.0,451.0 1396.0,449.1 C1398.0,447.2 1400.0,445.2 1402.0,443.1 C1404.0,441.1 1406.0,438.9 1408.0,436.6 C1410.0,434.3 1412.0,431.9 1414.0,429.4 C1416.0,426.9 1418.0,424.2 1420.0,421.5 C1422.0,418.7 1424.0,415.8 1426.0,412.9 C1428.0,410.1 1430.0,407.1 1432.0,404.5 C1434.0,401.8 1436.0,399.3 1438.0,397.1 C1440.0,394.9 1442.0,393.2 1444.0,391.5 C1446.0,389.8 1448.0,388.6 1450.0,386.9 C1452.0,385.3 1454.0,383.5 1456.0,381.6 C1458.0,379.7 1460.0,377.7 1462.0,375.5 C1464.0,373.3 1466.0,370.9 1468.0,368.5 C1470.0,366.1 1472.0,363.5 1474.0,360.9 C1476.0,358.3 1478.0,355.5 1480.0,352.7 C1482.0,349.9 1484.0,347.0 1486.0,344.1 C1488.0,341.2 1490.0,338.2 1492.0,335.2 C1494.0,332.3 1496.0,329.3 1498.0,326.4 C1500.0,323.5 1502.0,320.6 1504.0,317.9 C1506.0,315.1 1508.0,312.4 1510.0,309.8 C1512.0,307.2 1514.0,304.8 1516.0,302.5 C1518.0,300.2 1520.0,298.0 1522.0,296.0 C1524.0,294.0 1526.0,292.2 1528.0,290.5 C1530.0,288.9 1532.0,287.4 1534.0,286.2 C1536.0,284.9 1538.0,283.9 1540.0,282.9 C1542.0,281.9 1544.0,281.2 1546.0,280.2 C1548.0,279.1 1550.0,277.9 1552.0,276.4 C1554.0,274.8 1556.0,272.9 1558.0,270.7 C1560.0,268.5 1562.0,266.0 1564.0,263.2 C1566.0,260.4 1568.0,257.4 1570.0,254.0 C1572.0,250.6 1574.0,247.0 1576.0,242.9 C1578.0,238.7 1580.0,233.9 1582.0,229.1 C1584.0,224.4 1586.0,218.8 1588.0,214.4 C1590.0,210.0 1592.0,206.0 1594.0,202.8 C1596.0,199.6 1598.0,197.5 1600.0,195.2 C1602.0,192.9 1604.0,191.1 1606.0,189.2 C1608.0,187.3 1610.0,185.5 1612.0,183.8 C1614.0,182.1 1616.0,180.5 1618.0,178.9 C1620.0,177.4 1622.0,175.8 1624.0,174.3 C1626.0,172.8 1628.0,171.3 1630.0,169.8 C1632.0,168.2 1634.0,166.7 1636.0,165.1 C1638.0,163.4 1640.0,161.8 1642.0,160.0 C1644.0,158.3 1646.0,156.5 1648.0,154.6 C1650.0,152.7 1652.0,150.7 1654.0,148.6 C1656.0,146.6 1658.0,144.4 1660.0,142.2 C1662.0,140.0 1664.0,137.7 1666.0,135.4 C1668.0,133.0 1670.0,130.6 1672.0,128.1 C1674.0,125.6 1676.0,123.1 1678.0,120.4 C1680.0,117.8 1682.0,115.1 1684.0,112.3 C1686.0,109.5 1688.0,106.7 1690.0,103.8 C1692.0,100.8 1694.0,97.8 1696.0,94.8 C1698.0,91.7 1700.0,88.5 1702.0,85.3 C1704.0,82.1 1706.2,78.5 1708.0,75.4 C1709.8,72.3 1712.2,68.2 1713.0,66.7" stroke="#00f"/>
<path d="M280.0,1124.7 C281.0,1124.7 284.0,1124.7 286.0,1124.7 C288.0,1124.7 290.0,1124.7 292.0,1124.7 C294.0,1124.7 296.0,1124.7 298.0,1124.7 C300.0,1124.6 302.0,1124.6 304.0,1124.6 C306.0,1124.6 308.0,1124.5 310.0,1124.5 C312.0,1124.5 314.0,1124.4 316.0,1124.4 C318.0,1124.3 320.0,1124.3 322.0,1124.2 C324.0,1124.2 326.0,1124.1 328.0,1124.0 C330.0,1124.0 332.0,1123.9 334.0,1123.8 C336.0,1123.7 338.0,1123.7 340.0,1123.6 C342.0,1123.5 344.0,1123.4 346.0,1123.3 C348.0,1123.1 350.0,1123.0 352.0,1122.9 C354.0,1122.8 356.0,1122.7 358.0,1122.5 C360.0,1122.4 362.0,1122.2 364.0,1122.1 C366.0,1121.9 368.0,1121.8 370.0,1121.6 C372.0,1121.4 374.0,1121.3 376.0,1121.1 C378.0,1120.9 380.0,1120.7 382.0,1120.5 C384.0,1120.3 386.0,1120.1 388.0,1119.9 C390.0,1119.7 392.0,1119.4 394.0,1119.2 C396.0,1119.0 398.0,1118.7 400.0,1118.5 C402.0,1118.2 404.0,1118.0 406.0,1117.7 C408.0,1117.4 410.0,1117.1 412.0,1116.8 C414.0,1116.6 416.0,1116.3 418.0,1116.0 C420.0,1115.7 422.0,1115.4 424.0,1115.0 C426.0,1114.7 428.0,1114.4 430.0,1114.1 C432.0,1113.8 434.0,1113.5 436.0,1113.1 C438.0,1112.8 440.0,1112.5 442.0,1112.1 C444.0,1111.8 446.0,1111.5 448.0,1111.1 C450.0,1110.8 452.0,1110.5 454.0,1110.1 C456.0,1109.8 458.0,1109.4 460.0,1109.1 C462.0,1108.8 464.0,1108.4 466.0,1108.1 C468.0,1107.8 470.0,1107.4 472.0,1107.1 C474.0,1106.8 476.0,1106.5 478.0,1106.1 C480.0,1105.8 482.0,1105.5 484.0,1105.2 C486.0,1104.9 488.0,1104.6 490.0,1104.3 C492.0,1104.0 494.0,1103.7 496.0,1103.4 C498.0,1103.1 500.0,1102.9 502.0,1102.6 C504.0,1102.3 506.0,1102.1 508.0,1101.8 C510.0,1101.5 512.0,1101.3 514.0,1101.0 C516.0,1100.8 518.0,1100.6 520.0,1100.3 C522.0,1100.1 524.0,1099.9 526.0,1099.6 C528.0,1099.4 530.0,1099.2 532.0,1098.9 C534.0,1098.7 536.0,1098.5 538.0,1098.2 C540.0,1098.0 542.0,1097.8 544.0,1097.6 C546.0,1097.3 548.0,1097.1 550.0,1096.8 C552.0,1096.6 554.0,1096.4 556.0,1096.1 C558.0,1095.9 560.0,1095.6 562.0,1095.4 C564.0,1095.1 566.0,1094.8 568.0,1094.6 C570.0,1094.3 572.0,1094.0 574.0,1093.7 C576.0,1093.4 578.0,1093.1 580.0,1092.8 C582.0,1092.5 584.0,1092.2 586.0,1091.8 C588.0,1091.5 590.0,1091.1 592.0,1090.8 C594.0,1090.4 596.0,1090.0 598.0,1089.6 C600.0,1089.2 602.0,1088.8 604.0,1088.4 C606.0,1088.0 608.0,1087.5 610.0,1087.1 C612.0,1086.6 614.0,1086.2 616.0,1085.7 C618.0,1085.2 620.0,1084.7 622.0,1084.2 C624.0,1083.7 626.0,1083.2 628.0,1082.7 C630.0,1082.2 632.0,1081.7 634.0,1081.2 C636.0,1080.6 638.0,1080.1 640.0,1079.5 C642.0,1079.0 644.0,1078.5 646.0,1077.9 C648.0,1077.4 650.0,1076.8 652.0,1076.3 C654.0,1075.7 656.0,1075.2 658.0,1074.6 C660.0,1074.1 662.0,1073.5 664.0,1073.0 C666.0,1072.4 668.0,1071.9 670.0,1071.3 C672.0,1070.8 674.0,1070.2 676.0,1069.7 C678.0,1069.2 680.0,1068.6 682.0,1068.1 C684.0,1067.6 686.0,1067.1 688.0,1066.5 C690.0,1066.0 692.0,1065.5 694.0,1065.1 C696.0,1064.6 698.0,1064.1 700.0,1063.6 C702.0,1063.2 704.0,1062.7 706.0,1062.3 C708.0,1061.8 710.0,1061.4 712.0,1061.0 C714.0,1060.5 716.0,1060.1 718.0,1059.7 C720.0,1059.3 722.0,1058.9 724.0,1058.5 C726.0,1058.1 728.0,1057.7 730.0,1057.3 C732.0,1056.8 734.0,1056.4 736.0,1056.0 C738.0,1055.6 740.0,1055.2 742.0,1054.8 C744.0,1054.4 746.0,1054.0 748.0,1053.6 C750.0,1053.2 752.0,1052.8 754.0,1052.3 C756.0,1051.9 758.0,1051.4 760.0,1051.0 C762.0,1050.5 764.0,1050.1 766.0,1049.6 C768.0,1049.1 770.0,1048.7 772.0,1048.2 C774.0,1047.7 776.0,1047.2 778.0,1046.7 C780.0,1046.1 782.0,1045.6 784.0,1045.1 C786.0,1044.5 788.0,1044.0 790.0,1043.4 C792.0,1042.9 794.0,1042.3 796.0,1041.7 C798.0,1041.1 800.0,1040.5 802.0,1039.9 C804.0,1039.3 806.0,1038.7 808.0,1038.0 C810.0,1037.4 812.0,1036.8 814.0,1036.1 C816.0,1035.5 818.0,1034.8 820.0,1034.1 C822.0,1033.4 824.0,1032.7 826.0,1032.0 C828.0,1031.3 830.0,1030.6 832.0,1029.9 C834.0,1029.1 836.0,1028.4 838.0,1027.6 C840.0,1026.9 842.0,1026.1 844.0,1025.4 C846.0,1024.6 848.0,1023.8 850.0,1023.0 C852.0,1022.2 854.0,1021.4 856.0,1020.6 C858.0,1019.8 860.0,1019.0 862.0,1018.2 C864.0,1017.4 866.0,1016.6 868.0,1015.8 C870.0,1015.0 872.0,1014.1 874.0,1013.3 C876.0,1012.5 878.0,1011.7 880.0,1010.8 C882.0,1010.0 884.0,1009.2 886.0,1008.3 C888.0,1007.5 890.0,1006.7 892.0,1005.8 C894.0,1005.0 896.0,1004.1 898.0,1003.3 C900.0,1002.5 902.0,1001.6 904.0,1000.8 C906.0,1000.0 908.0,999.2 910.0,998.3 C912.0,997.5 914.0,996.7 916.0,995.9 C918.0,995.0 920.0,994.2 922.0,993.4 C924.0,992.6 926.0,991.8 928.0,991.0 C930.0,990.2 932.0,989.4 934.0,988.6 C936.0,987.8 938.0,987.0 940.0,986.2 C942.0,985.4 944.0,984.6 946.0,983.8 C948.0,983.0 950.0,982.2 952.0,981.4 C954.0,980.6 956.0,979.9 958.0,979.0 C960.0,978.2 962.0,977.4 964.0,976.6 C966.0,975.8 968.0,975.0 970.0,974.2 C972.0,973.4 974.0,972.5 976.0,971.7 C978.0,970.9 980.0,970.0 982.0,969.2 C984.0,968.3 986.0,967.5 988.0,966.6 C990.0,965.7 992.0,964.8 994.0,964.0 C996.0,963.1 998.0,962.2 1000.0,961.2 C1002.0,960.3 1004.0,959.4 1006.0,958.5 C1008.0,957.5 1010.0,956.6 1012.0,955.6 C1014.0,954.6 1016.0,953.6 1018.0,952.6 C1020.0,951.6 1022.0,950.6 1024.0,949.6 C1026.0,948.6 1028.0,947.5 1030.0,946.5 C1032.0,945.4 1034.0,944.3 1036.0,943.3 C1038.0,942.2 1040.0,941.1 1042.0,940.0 C1044.0,939.0 1046.0,937.9 1048.0,936.8 C1050.0,935.7 1052.0,934.7 1054.0,933.6 C1056.0,932.6 1058.0,931.5 1060.0,930.5 C1062.0,929.4 1064.0,928.4 1066.0,927.4 C1068.0,926.4 1070.0,925.4 1072.0,924.5 C1074.0,923.5 1076.0,922.6 1078.0,921.7 C1080.0,920.7 1082.0,919.9 1084.0,919.0 C1086.0,918.1 1088.0,917.3 1090.0,916.5 C1092.0,915.7 1094.0,914.9 1096.0,914.1 C1098.0,913.3 1100.0,912.5 1102.0,911.7 C1104.0,910.9 1106.0,910.1 1108.0,909.3 C1110.0,908.4 1112.0,907.6 1114.0,906.8 C1116.0,905.9 1118.0,905.1 1120.0,904.2 C1122.0,903.3 1124.0,902.3 1126.0,901.4 C1128.0,900.4 1130.0,899.5 1132.0,898.5 C1134.0,897.5 1136.0,896.5 1138.0,895.5 C1140.0,894.5 1142.0,893.4 1144.0,892.4 C1146.0,891.4 1148.0,890.4 1150.0,889.3 C1152.0,888.3 1154.0,887.3 1156.0,886.3 C1158.0,885.3 1160.0,884.3 1162.0,883.4 C1164.0,882.4 1166.0,881.4 1168.0,880.5 C1170.0,879.6 1172.0,878.7 1174.0,877.9 C1176.0,877.0 1178.0,876.2 1180.0,875.4 C1182.0,874.6 1184.0,873.9 1186.0,873.1 C1188.0,872.4 1190.0,871.7 1192.0,871.0 C1194.0,870.3 1196.0,869.5 1198.0,868.8 C1200.0,868.0 1202.0,867.2 1204.0,866.4 C1206.0,865.5 1208.0,864.6 1210.0,863.6 C1212.0,862.6 1214.0,861.5 1216.0,860.3 C1218.0,859.1 1220.0,857.8 1222.0,856.4 C1224.0,855.0 1226.0,853.4 1228.0,851.9 C1230.0,850.3 1232.0,848.6 1234.0,847.0 C1236.0,845.4 1238.0,843.8 1240.0,842.2 C1242.0,840.7 1244.0,839.2 1246.0,837.7 C1248.0,836.3 1250.0,834.9 1252.0,833.6 C1254.0,832.2 1256.0,830.9 1258.0,829.7 C1260.0,828.4 1262.0,827.2 1264.0,826.0 C1266.0,824.9 1268.0,823.7 1270.0,822.6 C1272.0,821.5 1274.0,820.4 1276.0,819.3 C1278.0,818.2 1280.0,817.1 1282.0,816.1 C1284.0,815.0 1286.0,814.0 1288.0,812.9 C1290.0,811.9 1292.0,810.8 1294.0,809.7 C1296.0,808.7 1298.0,807.6 1300.0,806.5 C1302.0,805.5 1304.0,804.4 1306.0,803.3 C1308.0,802.1 1310.0,801.0 1312.0,799.9 C1314.0,798.8 1316.0,797.6 1318.0,796.4 C1320.0,795.3 1322.0,794.1 1324.0,792.9 C1326.0,791.7 1328.0,790.5 1330.0,789.3 C1332.0,788.1 1334.0,786.9 1336.0,785.6 C1338.0,784.4 1340.0,783.1 1342.0,781.9 C1344.0,780.6 1346.0,779.4 1348.0,778.1 C1350.0,776.8 1352.0,775.5 1354.0,774.2 C1356.0,772.9 1358.0,771.6 1360.0,770.2 C1362.0,768.9 1364.0,767.5 1366.0,766.2 C1368.0,764.8 1370.0,763.4 1372.0,762.0 C1374.0,760.6 1376.0,759.2 1378.0,757.8 C1380.0,756.3 1382.0,754.9 1384.0,753.4 C1386.0,752.0 1388.0,750.5 1390.0,749.0 C1392.0,747.4 1394.0,745.9 1396.0,744.4 C1398.0,742.8 1400.0,741.3 1402.0,739.7 C1404.0,738.1 1406.0,736.6 1408.0,735.0 C1410.0,733.4 1412.0,731.7 1414.0,730.1 C1416.0,728.5 1418.0,726.9 1420.0,725.3 C1422.0,723.7 1424.0,722.0 1426.0,720.5 C1428.0,719.0 1430.0,717.5 1432.0,716.1 C1434.0,714.7 1436.0,713.4 1438.0,712.2 C1440.0,711.1 1442.0,710.0 1444.0,709.1 C1446.0,708.2 1448.0,707.6 1450.0,706.9 C1452.0,706.2 1454.0,705.7 1456.0,704.9 C1458.0,704.2 1460.0,703.4 1462.0,702.3 C1464.0,701.3 1466.0,700.0 1468.0,698.5 C1470.0,697.0 1472.0,695.3 1474.0,693.4 C1476.0,691.4 1478.0,689.1 1480.0,686.8 C1482.0,684.5 1484.0,682.0 1486.0,679.7 C1488.0,677.4 1490.0,675.0 1492.0,672.9 C1494.0,670.8 1496.0,668.9 1498.0,667.2 C1500.0,665.4 1502.0,663.8 1504.0,662.3 C1506.0,660.8 1508.0,659.4 1510.0,658.1 C1512.0,656.9 1514.0,655.7 1516.0,654.6 C1518.0,653.5 1520.0,652.4 1522.0,651.4 C1524.0,650.5 1526.0,649.5 1528.0,648.7 C1530.0,648.0 1532.0,647.3 1534.0,646.7 C1536.0,646.2 1538.0,646.0 1540.0,645.6 C1542.0,645.2 1544.0,645.0 1546.0,644.4 C1548.0,643.7 1550.0,643.0 1552.0,641.7 C1554.0,640.3 1556.0,638.5 1558.0,636.2 C1560.0,634.0 1562.0,631.0 1564.0,628.2 C1566.0,625.3 1568.0,622.1 1570.0,619.1 C1572.0,616.0 1574.0,612.8 1576.0,609.8 C1578.0,606.7 1580.0,603.6 1582.0,600.7 C1584.0,597.9 1586.0,595.0 1588.0,592.5 C1590.0,590.0 1592.0,587.7 1594.0,585.7 C1596.0,583.7 1598.0,582.0 1600.0,580.5 C1602.0,579.0 1604.0,577.9 1606.0,576.8 C1608.0,575.7 1610.0,574.8 1612.0,573.9 C1614.0,572.9 1616.0,572.1 1618.0,571.2 C1620.0,570.2 1622.0,569.3 1624.0,568.3 C1626.0,567.4 1628.0,566.4 1630.0,565.3 C1632.0,564.3 1634.0,563.2 1636.0,562.0 C1638.0,560.9 1640.0,559.7 1642.0,558.5 C1644.0,557.2 1646.0,555.9 1648.0,554.5 C1650.0,553.2 1652.0,551.7 1654.0,550.2 C1656.0,548.7 1658.0,547.1 1660.0,545.4 C1662.0,543.7 1664.0,542.0 1666.0,540.1 C1668.0,538.2 1670.0,536.3 1672.0,534.2 C1674.0,532.2 1676.0,530.1 1678.0,527.9 C1680.0,525.8 1682.0,523.6 1684.0,521.3 C1686.0,519.0 1688.0,516.7 1690.0,514.4 C1692.0,512.1 1694.0,509.7 1696.0,507.4 C1698.0,505.0 1700.0,502.7 1702.0,500.3 C1704.0,498.0 1706.1,495.5 1708.0,493.3 C1709.9,491.2 1712.3,488.4 1713.2,487.4" stroke="#f0f"/>
</g>
<rect x="381" y="161" width="146" height="8" fill="#000"/>
<text transform="translate(544.9,188) scale(0.954,1.065)" font-size="66" fill="#000" filter="url(#crisp)">S<tspan dx="3.7">1</tspan></text>
<rect x="381" y="241" width="146" height="8" fill="#f00"/>
<text transform="translate(544.9,268) scale(0.954,1.065)" font-size="66" fill="#000" filter="url(#crisp)">S2</text>
<rect x="381" y="321" width="146" height="8" fill="#00f"/>
<text transform="translate(544.9,348) scale(0.954,1.065)" font-size="66" fill="#000" filter="url(#crisp)">S3</text>
<rect x="381" y="401" width="146" height="8" fill="#f0f"/>
<text transform="translate(544.9,428) scale(0.954,1.065)" font-size="66" fill="#000" filter="url(#crisp)">S4</text>
<g stroke="#808080" stroke-width="8.7" fill="none">
<path d="M280,463.45 H1716" stroke-dasharray="12.9 20.26"/>
<path d="M1382.5,460.7 V1128.5" stroke-dasharray="12.9 20.26"/>
</g>
<text transform="translate(1403.1,1083.8) scale(1,1.045)" font-size="60" fill="#00f" filter="url(#crisp)">2.33GHz</text>
<g fill="#fff"><rect x="179.0" y="474.1" width="12" height="7.6"/><rect x="199.0" y="474.1" width="10" height="7.6"/><rect x="179.0" y="340.9" width="12" height="7.6"/><rect x="199.0" y="340.9" width="10" height="7.6"/><rect x="179.0" y="207.6" width="12" height="7.6"/><rect x="199.0" y="207.6" width="10" height="7.6"/><rect x="179.0" y="74.4" width="12" height="7.6"/><rect x="199.0" y="74.4" width="10" height="7.6"/><rect x="689.0" y="1191.0" width="12" height="7"/><rect x="709.0" y="1191.0" width="11" height="7"/><rect x="937.0" y="1191.0" width="12" height="7"/><rect x="957.0" y="1191.0" width="10" height="7"/><rect x="593.0" y="180.5" width="12" height="7.5"/><rect x="614.0" y="180.5" width="11" height="7.5"/></g>
</svg>
</body></html>
